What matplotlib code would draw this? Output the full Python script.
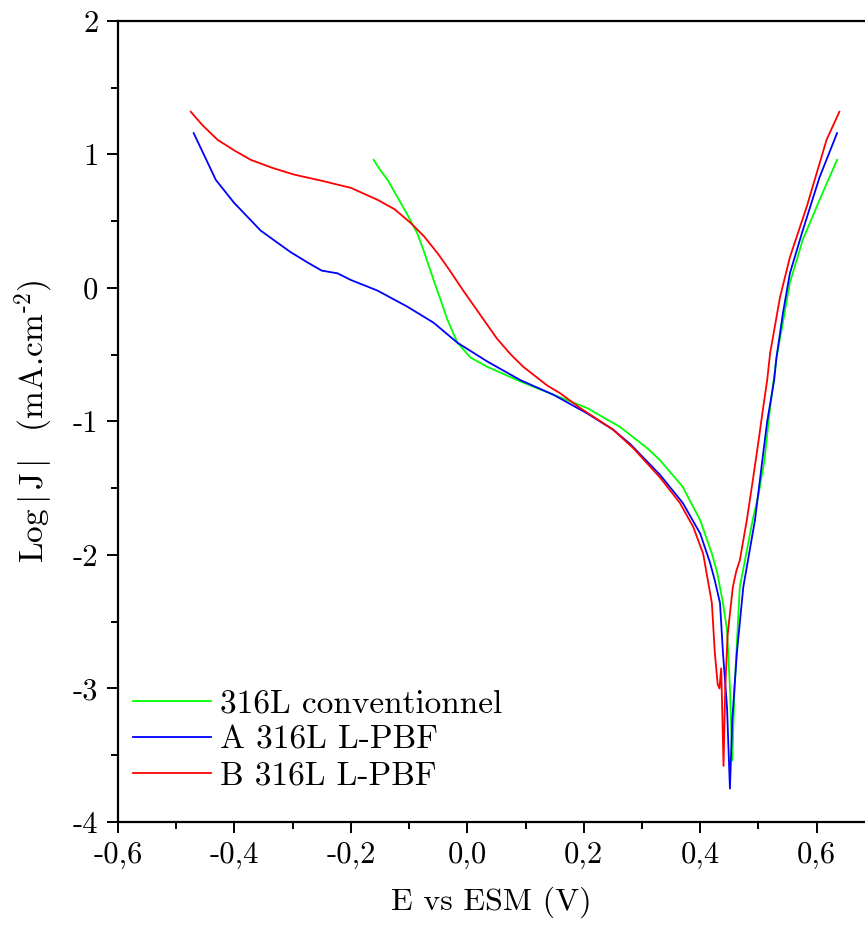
import numpy as np
import matplotlib
matplotlib.use("Agg")
import matplotlib.pyplot as plt
from matplotlib.ticker import MultipleLocator, FuncFormatter

plt.rcParams['font.family'] = ['cmr10', 'DejaVu Serif']
plt.rcParams['mathtext.fontset'] = 'cm'
plt.rcParams['axes.unicode_minus'] = False

# 316L conventionnel (green)
E_conv = [-0.161, -0.149, -0.137, -0.12, -0.103, -0.086, -0.075, -0.058, -0.045, -0.034,
          -0.017, 0.005, 0.034, 0.091, 0.148, 0.206, 0.262, 0.309, 0.331, 0.37,
          0.40, 0.42, 0.429, 0.439, 0.446, 0.451, 0.455, 0.459, 0.468, 0.49,
          0.50, 0.51, 0.52, 0.531, 0.542, 0.554, 0.576, 0.605, 0.635]
L_conv = [0.96, 0.88, 0.81, 0.68, 0.55, 0.41, 0.28, 0.06, -0.10, -0.24,
          -0.41, -0.52, -0.59, -0.70, -0.80, -0.90, -1.04, -1.20, -1.29, -1.49,
          -1.74, -1.99, -2.13, -2.36, -2.56, -2.99, -3.54, -2.99, -2.24, -1.74,
          -1.55, -1.30, -0.90, -0.52, -0.26, 0.04, 0.36, 0.66, 0.96]

# A 316L L-PBF (blue)
E_A = [-0.47, -0.458, -0.445, -0.432, -0.401, -0.355, -0.304, -0.274, -0.25, -0.223,
       -0.2, -0.154, -0.103, -0.058, -0.017, 0.034, 0.091, 0.148, 0.206, 0.25,
       0.28, 0.331, 0.37, 0.4, 0.417, 0.425, 0.434, 0.439, 0.446, 0.451,
       0.455, 0.463, 0.474, 0.494, 0.505, 0.515, 0.527, 0.531, 0.542, 0.554,
       0.576, 0.605, 0.635]
L_A = [1.16, 1.05, 0.93, 0.81, 0.64, 0.43, 0.27, 0.19, 0.13, 0.11,
       0.06, -0.02, -0.14, -0.26, -0.41, -0.55, -0.69, -0.80, -0.94, -1.06,
       -1.17, -1.40, -1.61, -1.84, -2.06, -2.19, -2.36, -2.73, -3.14, -3.75,
       -3.24, -2.73, -2.24, -1.74, -1.35, -1.00, -0.69, -0.52, -0.19, 0.11,
       0.43, 0.83, 1.16]

# B 316L L-PBF (red)
E_B = [-0.475, -0.455, -0.429, -0.40, -0.372, -0.335, -0.298, -0.247, -0.20, -0.154,
       -0.125, -0.098, -0.075, -0.051, -0.03, -0.007, 0.022, 0.051, 0.075, 0.096,
       0.137, 0.16, 0.194, 0.25, 0.285, 0.331, 0.365, 0.388, 0.405, 0.42,
       0.425, 0.43, 0.433, 0.436, 0.438, 0.44, 0.443, 0.447, 0.456, 0.462,
       0.468, 0.48, 0.49, 0.50, 0.508, 0.515, 0.52, 0.537, 0.554, 0.583,
       0.617, 0.639]
L_B = [1.32, 1.22, 1.11, 1.03, 0.96, 0.90, 0.85, 0.80, 0.75, 0.66,
       0.59, 0.49, 0.39, 0.26, 0.13, -0.02, -0.20, -0.38, -0.50, -0.59,
       -0.73, -0.79, -0.90, -1.06, -1.20, -1.42, -1.61, -1.79, -1.99, -2.36,
       -2.73, -2.97, -3.00, -2.85, -3.20, -3.58, -3.00, -2.60, -2.24, -2.12,
       -2.04, -1.74, -1.45, -1.15, -0.90, -0.69, -0.49, -0.07, 0.23, 0.61,
       1.11, 1.32]

fig = plt.figure(figsize=(8.65, 9.25), dpi=100)
ax = fig.add_axes([0.1364, 0.1114, 0.8636, 0.8659])

ax.plot(E_conv, L_conv, color='#00ff00', lw=1.3, label='316L conventionnel')
ax.plot(E_A, L_A, color='#0000ff', lw=1.3, label='A 316L L-PBF')
ax.plot(E_B, L_B, color='#ff0000', lw=1.3, label='B 316L L-PBF')

ax.set_xlim(-0.6, 0.683)
ax.set_ylim(-4, 2)
ax.xaxis.set_major_locator(MultipleLocator(0.2))
ax.xaxis.set_minor_locator(MultipleLocator(0.1))
ax.yaxis.set_major_locator(MultipleLocator(1))
ax.yaxis.set_minor_locator(MultipleLocator(0.5))
ax.xaxis.set_major_formatter(FuncFormatter(lambda v, p: ('%.1f' % v).replace('.', ',').replace('-0,0', '0,0')))
ax.yaxis.set_major_formatter(FuncFormatter(lambda v, p: '%d' % round(v)))
ax.tick_params(which='major', direction='out', length=8, width=1.4, labelsize=22, pad=6)
ax.tick_params(which='minor', direction='out', length=5, width=1.4)
for s in ['left', 'top', 'bottom']:
    ax.spines[s].set_linewidth(1.6)
ax.spines['right'].set_visible(False)

ax.set_xlabel('E vs ESM (V)', fontsize=23, labelpad=13)
ax.set_ylabel(r'Log$\,|\,$J$\,|\,$  (mA.cm$^{\text{-}2}$)', fontsize=24, labelpad=12)

ax.legend(loc='lower left', bbox_to_anchor=(-0.011, 0.01), frameon=False, fontsize=24,
          handlelength=2.35, handletextpad=0.25, labelspacing=0.2, borderaxespad=0.3)

fig.savefig('out.png', dpi=100)
